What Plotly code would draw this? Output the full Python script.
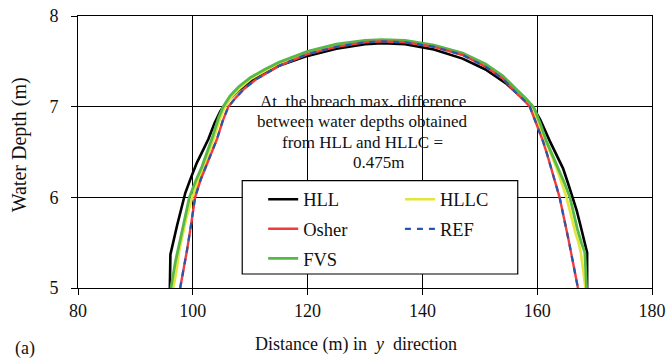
import plotly.graph_objects as go

# ---- data ----
hll_x = [96.0, 96.1, 97.3, 98.7, 99.7, 100.7, 101.7, 102.7, 103.8, 104.8, 106.0, 108.0, 110.0, 115.0,
         120.0, 125.0, 130.0, 133.0, 137.0, 142.0, 147.0, 151.0, 154.5, 157.0, 159.0, 160.5, 162.2,
         163.4, 164.5, 165.4, 166.2, 166.9, 167.5, 168.1, 168.7, 168.7]
hll_y = [5.0, 5.37, 5.7, 6.05, 6.22, 6.38, 6.51, 6.64, 6.82, 6.95, 7.06, 7.18, 7.28, 7.45,
         7.56, 7.64, 7.69, 7.70, 7.69, 7.63, 7.53, 7.41, 7.26, 7.12, 7.02, 6.86, 6.62,
         6.46, 6.32, 6.15, 6.0, 5.85, 5.7, 5.55, 5.39, 5.0]

hllc_x = [96.6, 97.2, 97.6, 98.8, 99.9, 100.9, 101.8, 102.8, 103.6, 104.7, 105.6, 106.8, 108.3, 110.2,
          115.0, 120.0, 125.0, 130.0, 133.0, 137.0, 142.0, 147.0, 151.0, 154.0, 156.2, 158.0, 159.2,
          160.3, 161.4, 162.5, 163.5, 164.3, 165.1, 165.9, 166.6, 167.2, 167.6, 168.0, 168.4]
hllc_y = [5.0, 5.2, 5.4, 5.75, 6.0, 6.17, 6.34, 6.5, 6.64, 6.86, 7.0, 7.11, 7.21, 7.31,
          7.48, 7.60, 7.68, 7.72, 7.73, 7.72, 7.67, 7.58, 7.46, 7.33, 7.18, 7.07, 6.97,
          6.8, 6.62, 6.46, 6.3, 6.15, 6.0, 5.8, 5.62, 5.5, 5.39, 5.2, 5.0]

osher_x = [97.8, 98.4, 99.0, 99.7, 100.4, 101.4, 102.5, 103.4, 104.2, 105.2, 106.2, 107.5, 109.0, 111.0,
           115.0, 120.0, 125.0, 130.0, 133.0, 137.0, 142.0, 147.0, 151.0, 154.0, 156.2, 157.7, 158.7,
           159.8, 161.0, 161.8, 162.5, 163.2, 163.9, 164.5, 165.0, 165.5, 165.9, 166.5, 167.1]
osher_y = [5.0, 5.2, 5.42, 5.7, 6.0, 6.2, 6.38, 6.52, 6.64, 6.84, 7.0, 7.1, 7.2, 7.3,
           7.45, 7.58, 7.66, 7.71, 7.72, 7.71, 7.66, 7.57, 7.44, 7.31, 7.16, 7.07, 7.0,
           6.82, 6.62, 6.46, 6.3, 6.15, 6.0, 5.82, 5.65, 5.52, 5.39, 5.2, 5.0]

fvs_x = [96.2, 97.0, 97.8, 98.6, 99.4, 100.5, 101.6, 102.5, 103.3, 104.5, 105.3, 106.5, 108.0, 110.0,
         112.5, 115.0, 120.0, 125.0, 130.0, 133.0, 137.0, 142.0, 147.0, 151.0, 154.0, 156.4, 158.2,
         159.5, 160.5, 161.6, 162.7, 163.8, 164.8, 165.7, 166.4, 167.0, 167.7, 168.3, 168.6]
fvs_y = [5.0, 5.3, 5.53, 5.77, 6.0, 6.18, 6.34, 6.5, 6.64, 6.88, 7.0, 7.12, 7.22, 7.32,
         7.41, 7.49, 7.61, 7.69, 7.73, 7.74, 7.73, 7.68, 7.59, 7.47, 7.34, 7.19, 7.08,
         6.98, 6.82, 6.62, 6.46, 6.3, 6.15, 6.0, 5.8, 5.65, 5.5, 5.39, 5.0]

ref_x = [97.8, 98.4, 99.0, 99.7, 100.4, 101.4, 102.5, 103.4, 104.2, 105.2, 106.2, 107.5, 109.0, 111.0,
         115.0, 120.0, 125.0, 130.0, 133.0, 137.0, 142.0, 147.0, 151.0, 154.0, 156.2, 157.7, 158.7,
         159.8, 161.0, 161.8, 162.5, 163.2, 163.9, 164.5, 165.0, 165.5, 165.9, 166.5, 167.1]
ref_y = [5.0, 5.2, 5.42, 5.7, 6.0, 6.2, 6.38, 6.52, 6.64, 6.84, 7.0, 7.1, 7.2, 7.3,
         7.45, 7.58, 7.66, 7.71, 7.72, 7.71, 7.66, 7.57, 7.44, 7.31, 7.16, 7.07, 7.0,
         6.82, 6.62, 6.46, 6.3, 6.15, 6.0, 5.82, 5.65, 5.52, 5.39, 5.2, 5.0]

x_ticks = [80, 100, 120, 140, 160, 180]
y_ticks = [5, 6, 7, 8]

note_lines = ["At\u00a0\u00a0the breach max. difference",
              "between water depths obtained",
              "from HLL and HLLC =",
              "0.475m"]

FONT = "Liberation Serif"

fig = go.Figure()
fig.add_trace(go.Scatter(x=hll_x, y=hll_y, mode="lines", name="HLL",
                         line=dict(color="#000000", width=2.6),
                         legend="legend", legendgroup="a", legendrank=1))
fig.add_trace(go.Scatter(x=hllc_x, y=hllc_y, mode="lines", name="HLLC",
                         line=dict(color="#E4E43A", width=2.6),
                         legend="legend2", legendgroup="d", legendrank=1))
fig.add_trace(go.Scatter(x=fvs_x, y=fvs_y, mode="lines", name="FVS",
                         line=dict(color="#55B847", width=2.8),
                         legend="legend", legendgroup="c", legendrank=3))
fig.add_trace(go.Scatter(x=osher_x, y=osher_y, mode="lines", name="Osher",
                         line=dict(color="#F03C3C", width=2.4),
                         legend="legend", legendgroup="b", legendrank=2))
fig.add_trace(go.Scatter(x=ref_x, y=ref_y, mode="lines", name="REF",
                         line=dict(color="#2458AE", width=2.2, dash="6px,6px"),
                         legend="legend2", legendgroup="e", legendrank=2))

# legend box
fig.add_shape(type="rect", xref="paper", yref="paper",
              x0=0.2861, x1=0.7661, y0=0.0515, y1=0.3945,
              fillcolor="white", line=dict(color="black", width=1.2), layer="above")

ann_y = [7.06, 6.84, 6.61, 6.38]
ann_x = [129.6, 129.6, 129.6, 132.4]
for t, ax_, ay_ in zip(note_lines, ann_x, ann_y):
    fig.add_annotation(x=ax_, y=ay_, xref="x", yref="y", text=t, showarrow=False,
                       font=dict(family=FONT, size=17, color="#111"), xanchor="center", yanchor="middle")

fig.add_annotation(xref="paper", yref="paper", x=(356 - 77.5) / 575, y=(288.3 - 345) / 272,
                   text="Distance (m) in\u00a0\u00a0<i>y</i>\u00a0\u00a0direction", showarrow=False,
                   font=dict(family=FONT, size=18, color="#111"), xanchor="center", yanchor="middle")
fig.add_annotation(xref="paper", yref="paper", x=(19 - 77.5) / 575, y=(288.3 - 145) / 272,
                   text="Water Depth (m)", textangle=-90, showarrow=False,
                   font=dict(family=FONT, size=20, color="#111"), xanchor="center", yanchor="middle")
fig.add_annotation(xref="paper", yref="paper", x=(24 - 77.5) / 575, y=(288.3 - 349) / 272,
                   text="(a)", showarrow=False,
                   font=dict(family=FONT, size=18, color="#111"), xanchor="center", yanchor="middle")

axis_common = dict(showline=True, linecolor="black", linewidth=1, mirror=True,
                   showgrid=True, gridcolor="black", gridwidth=1,
                   ticks="outside", ticklen=6, tickcolor="black", tickwidth=1,
                   ticklabeloverflow="allow", automargin=False,
                   tickfont=dict(family=FONT, size=18, color="#111"), zeroline=False)

fig.update_xaxes(range=[80, 180], tickvals=x_ticks, ticktext=[str(v) for v in x_ticks], **axis_common)
fig.update_yaxes(range=[5, 8], tickvals=y_ticks, ticktext=[str(v) for v in y_ticks],
                 ticklabelstandoff=9, **axis_common)

legend_common = dict(bgcolor="rgba(0,0,0,0)", borderwidth=0, tracegroupgap=2.5,
                     font=dict(family=FONT, size=18.5, color="#111"),
                     xanchor="left", yanchor="top", orientation="v", traceorder="grouped")

fig.update_layout(
    width=668, height=361, autosize=False,
    margin=dict(l=77.5, r=15.5, t=16.3, b=72.7),
    paper_bgcolor="white", plot_bgcolor="white",
    legend=dict(x=(263 - 77.5) / 575, y=(288.3 - 181) / 272, **legend_common),
    legend2=dict(x=(400 - 77.5) / 575, y=(288.3 - 181) / 272, **legend_common),
)

# remove the page's default body margin so the figure fills the window exactly
fig.write_html("out.html", config={"displayModeBar": False},
               post_script="document.body.style.margin='0px';")
